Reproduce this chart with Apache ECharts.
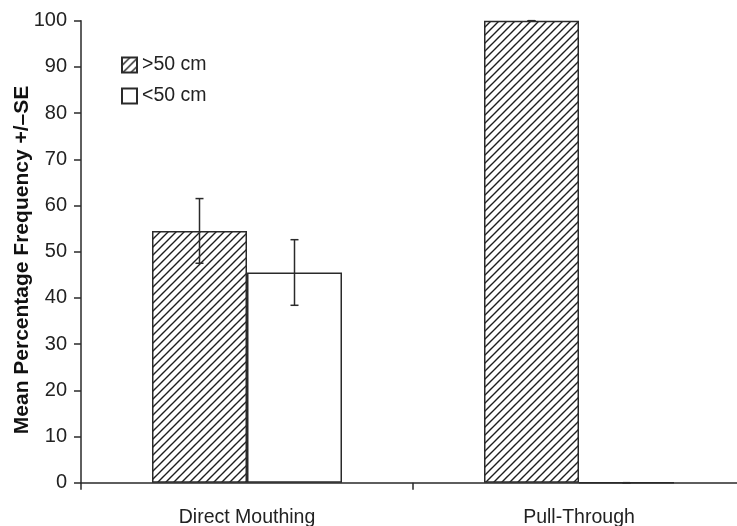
<!DOCTYPE html>
<html>
<head>
<meta charset="utf-8">
<script src="https://cdn.jsdelivr.net/npm/echarts@6/dist/echarts.min.js"></script>
<style>
  html, body { margin: 0; padding: 0; background: #fff; }
  #chart { width: 737px; height: 526px; }
</style>
</head>
<body>
<div id="chart"></div>
<script>
// Chart data
const categories = ['Direct Mouthing', 'Pull-Through'];
const seriesNames = ['>50 cm', '<50 cm'];
const over50 = [54.5, 100];
const over50SE = [7.0, 0];
const under50 = [45.5, 0];
const under50SE = [7.1, 0];
const yTicks = [0, 10, 20, 30, 40, 50, 60, 70, 80, 90, 100];
const yTitle = 'Mean Percentage Frequency +/\u2013SE';

const BAR_W = 95;
const INK = '#2a2a2a';
const FONT = 'Liberation Sans, Arial, Helvetica, sans-serif';

// Diagonal hatching tile for the >50 cm bars
function hatchTile() {
  const s = 8;
  const c = document.createElement('canvas');
  c.width = s; c.height = s;
  const g = c.getContext('2d');
  g.fillStyle = '#fff';
  g.fillRect(0, 0, s, s);
  g.strokeStyle = '#1e1e1e';
  g.lineWidth = 1.4;
  g.beginPath();
  g.moveTo(-1, s + 1); g.lineTo(s + 1, -1);
  g.moveTo(-1, 1); g.lineTo(1, -1);
  g.moveTo(s - 1, s + 1); g.lineTo(s + 1, s - 1);
  g.stroke();
  return c;
}
const hatch = { image: hatchTile(), repeat: 'repeat' };

// Error bar renderer; offset shifts to the left or right bar within a category
function errorBars(means, ses, offset) {
  return {
    type: 'custom',
    silent: true,
    z: 5,
    data: means.map((m, i) => [i, m - ses[i], m + ses[i]]),
    renderItem: function (params, api) {
      const lo = api.coord([api.value(0), api.value(1)]);
      const hi = api.coord([api.value(0), api.value(2)]);
      const x = lo[0] + offset;
      const cap = 4;
      const style = { stroke: INK, lineWidth: 1.5 };
      return {
        type: 'group',
        children: [
          { type: 'line', shape: { x1: x, y1: lo[1], x2: x, y2: hi[1] }, style },
          { type: 'line', shape: { x1: x - cap, y1: lo[1], x2: x + cap, y2: lo[1] }, style },
          { type: 'line', shape: { x1: x - cap, y1: hi[1], x2: x + cap, y2: hi[1] }, style }
        ]
      };
    }
  };
}

const GRID = { left: 81, top: 20.7, width: 664, height: 462 };

const chart = echarts.init(document.getElementById('chart'), null, { renderer: 'canvas' });
chart.setOption({
  animation: false,
  backgroundColor: '#fff',
  textStyle: { fontFamily: FONT },
  grid: Object.assign({ containLabel: false, outerBoundsMode: 'none' }, GRID),
  legend: {
    orient: 'vertical',
    left: 121,
    top: 55,
    padding: 0,
    itemWidth: 15,
    itemHeight: 15,
    itemGap: 11,
    icon: 'rect',
    selectedMode: false,
    data: seriesNames,
    textStyle: { fontSize: 19.5, color: '#222', fontFamily: FONT }
  },
  graphic: [{
    type: 'text',
    x: 22,
    y: 260,
    rotation: Math.PI / 2,
    style: {
      text: yTitle,
      font: 'bold 21px ' + FONT,
      fill: '#111',
      align: 'center',
      verticalAlign: 'middle'
    }
  }],
  xAxis: {
    type: 'category',
    data: categories,
    boundaryGap: true,
    axisLine: { lineStyle: { color: INK, width: 1.5 } },
    axisTick: { show: true, length: 7, lineStyle: { color: INK, width: 1.5 } },
    axisLabel: { fontSize: 19.5, color: '#222', margin: 25, fontFamily: FONT }
  },
  yAxis: {
    type: 'value',
    min: yTicks[0],
    max: yTicks[yTicks.length - 1],
    interval: yTicks[1] - yTicks[0],
    splitLine: { show: false },
    axisLine: { show: true, lineStyle: { color: INK, width: 1.5 } },
    axisTick: { show: true, length: 7, lineStyle: { color: INK, width: 1.5 } },
    axisLabel: { fontSize: 20, color: '#222', margin: 14, fontFamily: FONT }
  },
  series: [
    {
      name: seriesNames[0],
      type: 'bar',
      data: over50,
      barWidth: BAR_W,
      barGap: '0%',
      itemStyle: { color: hatch, borderColor: INK, borderWidth: 1.5 }
    },
    {
      name: seriesNames[1],
      type: 'bar',
      data: under50,
      barWidth: BAR_W,
      barGap: '0%',
      itemStyle: { color: '#fff', borderColor: INK, borderWidth: 1.5 }
    },
    errorBars(over50, over50SE, -BAR_W / 2),
    errorBars(under50, under50SE, BAR_W / 2)
  ]
});
</script>
</body>
</html>
